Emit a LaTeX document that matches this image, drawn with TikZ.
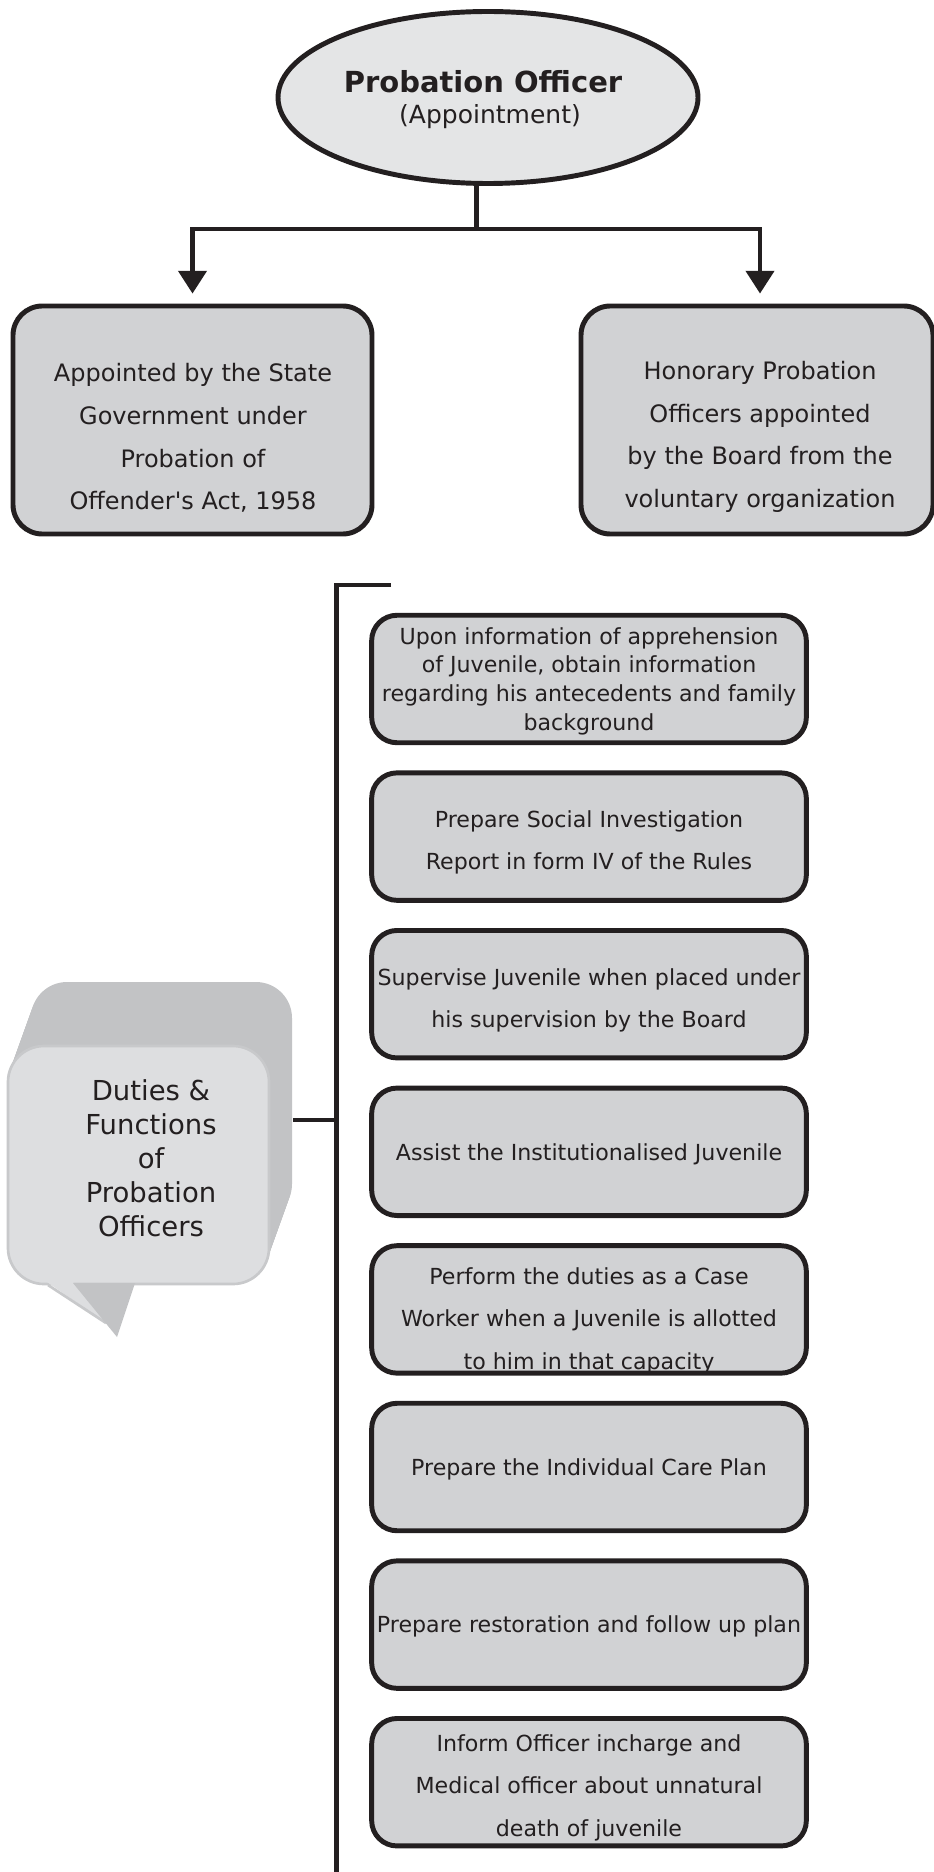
\documentclass[tikz,border=0pt]{standalone}
\usepackage{fontspec}
\setmainfont{DejaVu Sans}
\usetikzlibrary{shapes.geometric,arrows.meta}
\definecolor{ink}{HTML}{231F20}
\definecolor{ellfill}{HTML}{E4E5E6}
\definecolor{boxfill}{HTML}{D1D2D4}
\definecolor{bubfront}{HTML}{DDDEE0}
\definecolor{bubback}{HTML}{C2C3C5}
\definecolor{bubline}{HTML}{C8C9CB}
\tikzset{
  ell/.style={ellipse, draw=ink, fill=ellfill, line width=3.7pt, minimum width=315pt, minimum height=129pt, inner sep=0pt},
  topbox/.style={draw=ink, fill=boxfill, line width=3.7pt, rounded corners=22pt, minimum height=171pt, inner sep=0pt},
  toptext/.style={align=center, text=ink, font=\fontsize{18}{32}\selectfont},
  dutybox/.style={draw=ink, fill=boxfill, line width=3.7pt, rounded corners=19pt, minimum width=326pt, minimum height=95.6pt, inner sep=0pt},
  dutytext/.style={align=center, text=ink, font=\fontsize{16.6}{31.9}\selectfont},
  dutytight/.style={align=center, text=ink, font=\fontsize{16.6}{21.5}\selectfont},
  bubtext/.style={align=center, text=ink, font=\fontsize{20.6}{25.5}\selectfont},
  conn/.style={draw=ink, line width=3.1pt},
  arr/.style={conn, -{Triangle[width=21pt,length=17pt]}}
}
\begin{document}
\begin{tikzpicture}[x=0.75pt,y=-0.75pt]
\useasboundingbox (0,0) rectangle (934,1872);
\fill[white] (0,0) rectangle (934,1872);

% top ellipse
\node[ell] (po) at (488,97.5) {};
\node[anchor=base, text=ink, font=\bfseries\fontsize{21.75}{26}\selectfont] (pot) at (483,92.5) {Probation Officer};
\node[anchor=base, text=ink, font=\fontsize{18.75}{22}\selectfont] (pos) at (490,123.5) {(Appointment)};

% appointment boxes
\node[topbox, minimum width=269.25pt] (govt) at (192.5,420) {};
\node[toptext] (govtt) at (193,438) {Appointed by the State\\Government under\\Probation of\\Offender\textquotesingle s Act, 1958};
\node[topbox, minimum width=264pt] (hon) at (757,420) {};
\node[toptext] (hont) at (760,437) {Honorary Probation\\Officers appointed\\by the Board from the\\voluntary organization};

% connectors
\coordinate (fork) at (476.5,229);
\draw[conn] (fork |- po.south) -- (fork);
\draw[arr] (fork) -| ([yshift=7.5pt]govt.north);
\draw[arr] (fork) -| ([xshift=2.25pt,yshift=7.5pt]hon.north);

% speech bubble
\foreach \t in {0,0.04,...,1.001} {
  \fill[bubback, rounded corners=27pt, shift={(23*\t,-64*\t)}] (8,1046) rectangle (269,1284);
}
\filldraw[fill=bubfront, draw=bubline, line width=2pt, rounded corners=27pt] (8,1046) rectangle (269,1284);
\fill[bubfront] (47,1282) -- (73,1282) -- (106,1323) -- cycle;
\draw[bubline, line width=2pt] (48,1285) -- (106,1323);
\fill[bubback] (73,1283) -- (135,1283) -- (117,1337) -- cycle;
\node[bubtext] (bubt) at (151,1158) {Duties \&\\Functions\\of\\Probation\\Officers};

% bus
\coordinate (bub) at (293,1120);
\coordinate (bustop) at (336.5,585);
\coordinate (busbot) at (336.5,1885);
\coordinate (stub) at (391,585);
\draw[conn, line join=miter] (stub) -- (bustop) -- (busbot);
\draw[conn] (bub) -- (bub -| bustop);

% duty boxes
\node[dutybox] (d1) at (589,679) {};
\node[dutytight, yshift=-1.5pt] (t1) at (d1) {Upon information of apprehension\\of Juvenile, obtain information\\regarding his antecedents and family\\background};
\node[dutybox] (d2) at (589,836.6) {};
\node[dutytext, yshift=-4.5pt] (t2) at (d2) {Prepare Social Investigation\\Report in form IV of the Rules};
\node[dutybox] (d3) at (589,994.2) {};
\node[dutytext, yshift=-4.5pt] (t3) at (d3) {Supervise Juvenile when placed under\\his supervision by the Board};
\node[dutybox] (d4) at (589,1151.8) {};
\node[dutytext, yshift=-1.5pt] (t4) at (d4) {Assist the Institutionalised Juvenile};
\node[dutybox] (d5) at (589,1309.4) {};
\node[dutytext, yshift=-8.5pt] (t5) at (d5) {Perform the duties as a Case\\Worker when a Juvenile is allotted\\to him in that capacity};
\node[dutybox] (d6) at (589,1467) {};
\node[dutytext, yshift=-1.5pt] (t6) at (d6) {Prepare the Individual Care Plan};
\node[dutybox] (d7) at (589,1624.6) {};
\node[dutytext, yshift=-1.5pt] (t7) at (d7) {Prepare restoration and follow up plan};
\node[dutybox] (d8) at (589,1782.2) {};
\node[dutytext, yshift=-4pt] (t8) at (d8) {Inform Officer incharge and\\Medical officer about unnatural\\death of juvenile};
\end{tikzpicture}
\end{document}
